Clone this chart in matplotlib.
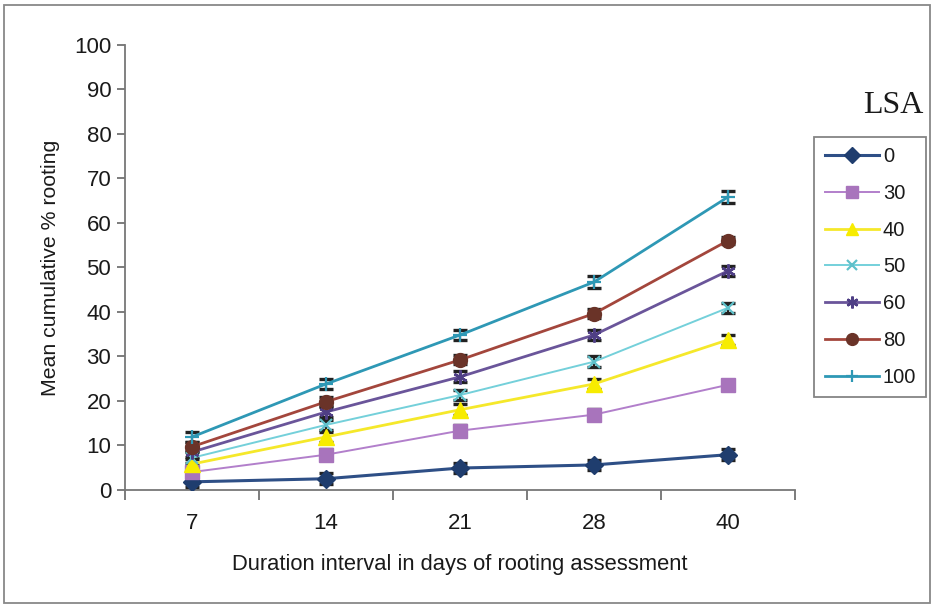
import numpy as np
import matplotlib.pyplot as plt
from matplotlib.patches import Rectangle

plt.rcParams['font.family'] = ['Liberation Sans', 'DejaVu Sans']

days = ['7', '14', '21', '28', '40']
lsa_levels = ['0', '30', '40', '50', '60', '80', '100']

# mean cumulative % rooting per LSA level
rooting = {
    '0':   [1.8, 2.5, 4.9, 5.6, 7.9],
    '30':  [4.0, 7.9, 13.3, 16.9, 23.6],
    '40':  [5.8, 11.9, 18.0, 23.8, 33.7],
    '50':  [7.2, 14.6, 21.3, 28.8, 40.9],
    '60':  [8.5, 17.5, 25.4, 34.8, 49.2],
    '80':  [9.7, 19.8, 29.2, 39.6, 56.0],
    '100': [11.9, 23.8, 34.8, 46.7, 65.8],
}
errors = {
    '0':   [1.2, 1.2, 1.2, 1.2, 1.2],
    '30':  [1.2, 1.2, 1.2, 1.2, 1.2],
    '40':  [1.2, 1.2, 1.2, 1.2, 1.2],
    '50':  [1.2, 1.2, 1.2, 1.2, 1.2],
    '60':  [1.2, 1.2, 1.2, 1.2, 1.2],
    '80':  [1.0, 1.0, 1.0, 1.0, 0.8],
    '100': [1.2, 1.2, 1.2, 1.4, 1.3],
}

styles = {
    '0':   dict(color='#2E4F86', marker='D', mfc='#1F3D6E', mec='#1F3D6E', ms=9, lw=2.2),
    '30':  dict(color='#B27FCB', marker='s', mfc='#A874BC', mec='#A874BC', ms=10, lw=1.4),
    '40':  dict(color='#F5E82A', marker='^', mfc='#F7EC00', mec='#F7EC00', ms=11, lw=2.0),
    '50':  dict(color='#74D0DA', marker='x', mfc='#5FC0CA', mec='#5FC0CA', ms=9, mew=1.6, lw=1.4),
    '60':  dict(color='#6A559A', marker=(6, 2, 0), mfc='#4F3F85', mec='#4F3F85', ms=10, mew=1.8, lw=2.0),
    '80':  dict(color='#A3463C', marker='o', mfc='#6A3328', mec='#6A3328', ms=10, lw=2.0),
    '100': dict(color='#2E98B5', marker='+', mfc='#2E98B5', mec='#2E98B5', ms=10, mew=1.6, lw=2.0),
}

fig = plt.figure(figsize=(9.34, 6.07), dpi=100)
ax = fig.add_axes([0.134, 0.193, 0.717, 0.733])

x = np.arange(len(days))
for lvl in lsa_levels:
    st = styles[lvl]
    ax.errorbar(x, rooting[lvl], yerr=errors[lvl], ecolor='#222222',
                elinewidth=1.6, capsize=5, capthick=2.4, fmt='none', zorder=3)
    ax.plot(x, rooting[lvl], label=lvl, zorder=4, **st)

ax.set_xlim(-0.5, len(days) - 0.5)
ax.set_ylim(0, 100)
ax.set_yticks(np.arange(0, 101, 10))
ax.set_xticks(x)
ax.set_xticklabels(days)
ax.set_xticks(np.arange(-0.5, len(days)), minor=True)
ax.tick_params(axis='x', which='major', length=0, pad=17, labelsize=16, labelcolor='#1a1a1a')
ax.tick_params(axis='x', which='minor', length=7, width=1.2, color='#666666', direction='out')
ax.tick_params(axis='y', length=6, width=1.2, color='#666666', labelsize=16, pad=4,
               labelcolor='#1a1a1a')
for side in ['top', 'right']:
    ax.spines[side].set_visible(False)
for side in ['left', 'bottom']:
    ax.spines[side].set_color('#777777')
    ax.spines[side].set_linewidth(1.3)

ax.set_xlabel('Duration interval in days of rooting assessment', fontsize=15.8,
              labelpad=14, color='#1a1a1a')
ax.set_ylabel('Mean cumulative % rooting', fontsize=15.3, labelpad=10, color='#1a1a1a')

leg = fig.legend(loc='upper left', bbox_to_anchor=(0.872, 0.774), fontsize=14.5,
                 handlelength=2.7, handletextpad=0.2, labelspacing=0.88,
                 borderpad=0.5, borderaxespad=0, frameon=True, fancybox=False,
                 markerscale=0.85)
leg.get_frame().set_edgecolor('#666666')
leg.get_frame().set_linewidth(1.3)
for t in leg.get_texts():
    t.set_color('#1a1a1a')

fig.text(0.956, 0.827, 'LSA', family='Liberation Serif', fontsize=23,
         ha='center', va='center', color='#1a1a1a')

fig.patches.append(Rectangle((0.004, 0.006), 0.992, 0.986, transform=fig.transFigure,
                             fill=False, edgecolor='#888888', linewidth=1.3))

fig.savefig('out.png', dpi=100)
